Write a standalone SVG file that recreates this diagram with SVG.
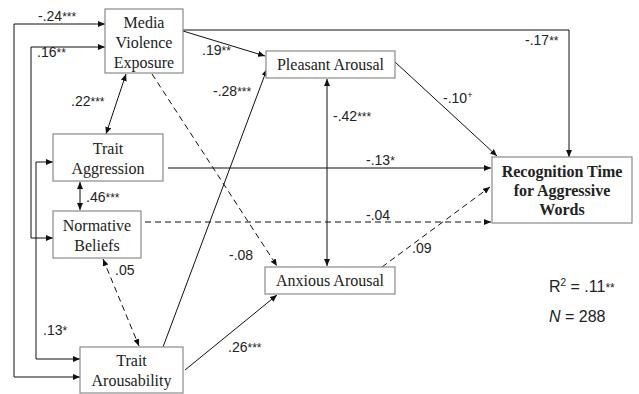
<svg xmlns="http://www.w3.org/2000/svg" width="639" height="394" viewBox="0 0 639 394">
<style>
.box{fill:#fff;stroke:#8a8a8a;stroke-width:1.2}
.nt{font-family:"Liberation Serif","Times New Roman",serif;font-size:16px;fill:#222;text-anchor:middle}
.bt{font-family:"Liberation Serif","Times New Roman",serif;font-size:16px;font-weight:bold;fill:#222;text-anchor:middle}
.lb{font-family:"Liberation Sans",Arial,sans-serif;font-size:14px;fill:#222}
.big{font-size:16px}
.st{font-size:12px}
.ln{fill:none;stroke:#111;stroke-width:1}
.ds{stroke-dasharray:6,4}
.e{marker-end:url(#ah)}
.b{marker-start:url(#ah);marker-end:url(#ah)}
</style>
<defs>
<marker id="ah" markerUnits="userSpaceOnUse" markerWidth="8" markerHeight="6" refX="7" refY="3" orient="auto-start-reverse">
<path d="M0,0 L7,3 L0,6 z" fill="#111"/>
</marker>
</defs>
<rect width="639" height="394" fill="#fff"/>
<g id="connectors">
<line class="ln e" x1="183" y1="31" x2="265" y2="56"/>
<polyline class="ln e" points="183,30 569,30 569,157"/>
<line class="ln ds e" x1="152" y1="74" x2="277" y2="266"/>
<line class="ln b" x1="106" y1="134" x2="126" y2="74"/>
<line class="ln b" x1="80" y1="182" x2="80" y2="210"/>
<line class="ln ds b" x1="103" y1="259" x2="139" y2="346"/>
<polyline class="ln b" points="80,377 14,377 14,24 105,24"/>
<polyline class="ln b" points="53,238 31,238 31,47 105,47"/>
<polyline class="ln b" points="53,162 36,162 36,359 80,359"/>
<line class="ln e" x1="163" y1="347" x2="267" y2="69"/>
<line class="ln e" x1="185" y1="370" x2="277" y2="295"/>
<line class="ln b" x1="327" y1="79" x2="327" y2="266"/>
<line class="ln e" x1="395" y1="62" x2="497" y2="156"/>
<line class="ln e" x1="168" y1="168" x2="491" y2="168"/>
<line class="ln ds e" x1="145" y1="222" x2="491" y2="222"/>
<line class="ln ds e" x1="382" y1="267" x2="490" y2="187"/>
</g>
<g id="labels">
<text class="lb" x="38" y="21">-.24<tspan class="st">***</tspan></text>
<text class="lb" x="37" y="57">.16<tspan class="st">**</tspan></text>
<text class="lb" x="71" y="106">.22<tspan class="st">***</tspan></text>
<text class="lb" x="202" y="55">.19<tspan class="st">**</tspan></text>
<text class="lb" x="525" y="45">-.17<tspan class="st">**</tspan></text>
<text class="lb" x="213" y="96">-.28<tspan class="st">***</tspan></text>
<text class="lb" x="333" y="121">-.42<tspan class="st">***</tspan></text>
<text class="lb" x="443" y="103">-.10<tspan style="font-size:9px" dy="-5">+</tspan></text>
<text class="lb" x="86" y="202">.46<tspan class="st">***</tspan></text>
<text class="lb" x="366" y="165">-.13<tspan class="st">*</tspan></text>
<text class="lb" x="366" y="220">-.04</text>
<text class="lb" x="229" y="260">-.08</text>
<text class="lb" x="412" y="253">.09</text>
<text class="lb" x="115" y="275">.05</text>
<text class="lb" x="43" y="335">.13<tspan class="st">*</tspan></text>
<text class="lb" x="228" y="352">.26<tspan class="st">***</tspan></text>
<text class="lb big" x="549" y="292">R<tspan style="font-size:10px" dy="-6">2</tspan><tspan dy="6"> = .11</tspan><tspan class="st">**</tspan></text>
<text class="lb big" x="549" y="322"><tspan font-style="italic">N</tspan> = 288</text>
</g>
<g id="mve"><rect class="box" x="105" y="9" width="78" height="64"/><text class="nt" x="144" y="28">Media</text><text class="nt" x="144" y="48">Violence</text><text class="nt" x="144" y="68">Exposure</text></g>
<g id="pleasant"><rect class="box" x="266" y="51" width="129" height="27"/><text class="nt" x="330.5" y="70">Pleasant Arousal</text></g>
<g id="recognition"><rect class="box" x="492" y="157" width="140" height="66" stroke-width="1.5"/><text class="bt" x="562" y="177">Recognition Time</text><text class="bt" x="562" y="196">for Aggressive</text><text class="bt" x="562" y="215">Words</text></g>
<g id="aggression"><rect class="box" x="53" y="134" width="110" height="47"/><text class="nt" x="108" y="154">Trait</text><text class="nt" x="108" y="174">Aggression</text></g>
<g id="normative"><rect class="box" x="53" y="211" width="88" height="47"/><text class="nt" x="97" y="231">Normative</text><text class="nt" x="97" y="251">Beliefs</text></g>
<g id="arousability"><rect class="box" x="80" y="347" width="103" height="46"/><text class="nt" x="131.5" y="366">Trait</text><text class="nt" x="131.5" y="386">Arousability</text></g>
<g id="anxious"><rect class="box" x="265" y="267" width="130" height="27"/><text class="nt" x="330" y="286">Anxious Arousal</text></g>
</svg>
